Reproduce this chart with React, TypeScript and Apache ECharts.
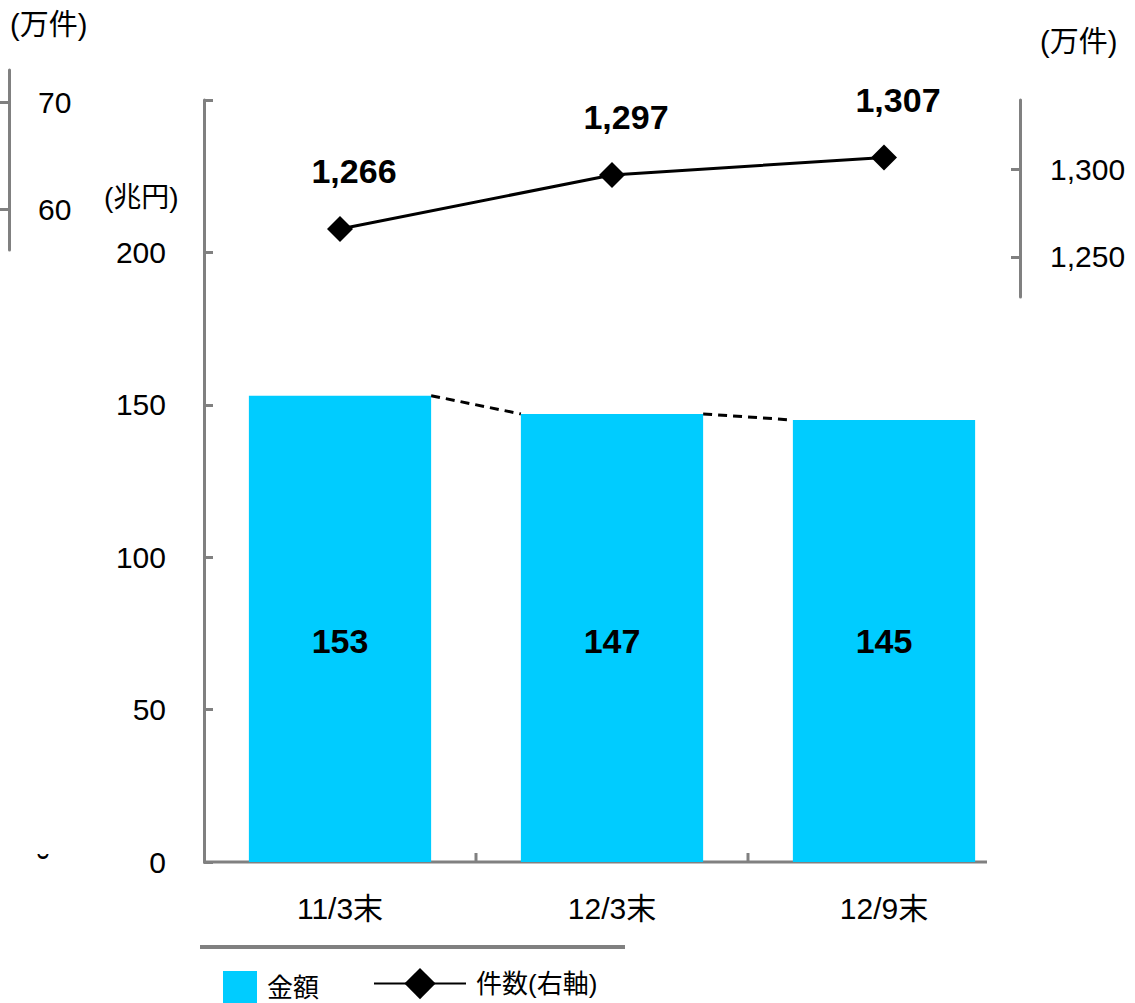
import React, { useEffect, useRef } from "react";
import * as echarts from "echarts";

// 残高の推移（金額：兆円、件数：万件）
const categories = ["11/3末", "12/3末", "12/9末"];
const amounts = [153, 147, 145];
const counts = [1266, 1297, 1307];
const amountTicks = [0, 50, 100, 150, 200];
const countTicks = [1250, 1300];
const oldCountTicks = [60, 70];

const FONT = "'Liberation Sans', Arial, 'Noto Sans CJK JP', sans-serif";
const AXIS_GRAY = "#808080";
const BAR_COLOR = "#00CCFF";
const BAR_RATIO = 0.67;
const AXIS_FONT = 30;
const VALUE_FONT = 34;

const fmt = (v: number) => v.toLocaleString("en-US");

export default function App() {
  const ref = useRef<HTMLDivElement>(null);

  useEffect(() => {
    if (!ref.current) return;
    const chart = echarts.init(ref.current, undefined, { renderer: "svg" });

    // links between the tops of neighbouring bars
    const linkData = amounts.slice(0, -1).map((v, i) => [i, v, amounts[i + 1]]);

    const axisText = { fontSize: AXIS_FONT, color: "#000", fontFamily: FONT };

    const option: any = {
      animation: false,
      backgroundColor: "#ffffff",
      textStyle: { fontFamily: FONT, color: "#000" },
      grid: [
        { left: 204, right: 115, top: 100, bottom: 141 },
        { left: 204, right: 115, top: 100, bottom: 706 },
        { left: 9, right: 1125, top: 70, bottom: 753 },
      ],
      xAxis: [
        {
          type: "category",
          gridIndex: 0,
          data: categories,
          boundaryGap: true,
          axisLine: { show: false },
          axisTick: { show: false },
          axisLabel: { ...axisText, margin: 31 },
        },
        {
          type: "category",
          gridIndex: 1,
          data: categories,
          boundaryGap: true,
          show: false,
        },
        { type: "value", gridIndex: 2, show: false, min: 0, max: 1 },
      ],
      yAxis: [
        {
          type: "value",
          gridIndex: 0,
          position: "left",
          min: 0,
          max: 250,
          interval: 50,
          splitLine: { show: false },
          axisLine: { show: true, lineStyle: { color: AXIS_GRAY, width: 3 } },
          axisTick: { show: true, inside: true, length: 9, lineStyle: { color: AXIS_GRAY, width: 3 } },
          axisLabel: {
            ...axisText,
            margin: 38,
            formatter: (v: number) => (amountTicks.includes(v) ? String(v) : ""),
          },
        },
        {
          type: "value",
          gridIndex: 1,
          position: "right",
          min: 1227,
          max: 1340,
          splitLine: { show: false },
          axisLine: { show: true, lineStyle: { color: AXIS_GRAY, width: 3 } },
          axisTick: {
            show: true,
            inside: true,
            length: 9,
            customValues: countTicks,
            lineStyle: { color: AXIS_GRAY, width: 3 },
          },
          axisLabel: {
            ...axisText,
            margin: 30,
            customValues: countTicks,
            formatter: (v: number) => fmt(v),
          },
        },
        {
          type: "value",
          gridIndex: 2,
          position: "left",
          min: 56.2,
          max: 73,
          splitLine: { show: false },
          axisLine: { show: true, lineStyle: { color: AXIS_GRAY, width: 3 } },
          axisTick: {
            show: true,
            inside: false,
            length: 9,
            customValues: oldCountTicks,
            lineStyle: { color: AXIS_GRAY, width: 3 },
          },
          axisLabel: {
            ...axisText,
            inside: true,
            margin: 29,
            customValues: oldCountTicks,
          },
        },
      ],
      legend: [
        {
          data: ["金額"],
          left: 218,
          top: 966,
          itemWidth: 34,
          itemHeight: 33,
          icon: "rect",
          textStyle: { fontSize: 26, color: "#000", fontFamily: FONT, padding: [0, 0, 0, 5] },
        },
        {
          data: ["件数(右軸)"],
          left: 368,
          top: 963,
          itemWidth: 92,
          itemHeight: 39,
          textStyle: { fontSize: 26, color: "#000", fontFamily: FONT, padding: [0, 0, 0, 5] },
        },
      ],
      series: [
        {
          name: "金額",
          type: "bar",
          xAxisIndex: 0,
          yAxisIndex: 0,
          data: amounts,
          barWidth: `${BAR_RATIO * 100}%`,
          itemStyle: { color: BAR_COLOR },
          label: {
            show: true,
            position: "insideBottom",
            distance: 204,
            fontSize: VALUE_FONT,
            fontWeight: "bold",
            color: "#000",
            fontFamily: FONT,
          },
        },
        {
          name: "links",
          type: "custom",
          xAxisIndex: 0,
          yAxisIndex: 0,
          data: linkData,
          clip: false,
          silent: true,
          renderItem: (params: any, api: any) => {
            const i = api.value(0);
            const p0 = api.coord([i, api.value(1)]);
            const p1 = api.coord([i + 1, api.value(2)]);
            const half = (api.size([1, 0])[0] * BAR_RATIO) / 2;
            return {
              type: "line",
              shape: { x1: p0[0] + half, y1: p0[1], x2: p1[0] - half, y2: p1[1] },
              style: { stroke: "#000", lineWidth: 3, lineDash: [9, 6] },
            };
          },
        },
        {
          name: "件数(右軸)",
          type: "line",
          xAxisIndex: 1,
          yAxisIndex: 1,
          data: counts,
          symbol: "diamond",
          symbolSize: 26,
          lineStyle: { color: "#000", width: 3 },
          itemStyle: { color: "#000" },
          label: {
            show: true,
            position: "top",
            distance: 28,
            offset: [14, 0],
            fontSize: VALUE_FONT,
            fontWeight: "bold",
            color: "#000",
            fontFamily: FONT,
            formatter: (p: any) => fmt(p.value),
          },
        },
      ],
      graphic: [
        // category axis baseline with its inner ticks
        {
          type: "polyline",
          shape: { points: [[203, 862], [987, 862]] },
          style: { stroke: AXIS_GRAY, lineWidth: 3, fill: "none" },
        },
        {
          type: "line",
          shape: { x1: 476, y1: 862, x2: 476, y2: 853 },
          style: { stroke: AXIS_GRAY, lineWidth: 3 },
        },
        {
          type: "line",
          shape: { x1: 748, y1: 862, x2: 748, y2: 853 },
          style: { stroke: AXIS_GRAY, lineWidth: 3 },
        },
        // separator above the legend
        {
          type: "line",
          shape: { x1: 200, y1: 947, x2: 625, y2: 947 },
          style: { stroke: AXIS_GRAY, lineWidth: 4 },
        },
        {
          type: "text",
          left: 10,
          top: 10,
          style: { text: "(万件)", font: `29px ${FONT}`, fill: "#000" },
        },
        {
          type: "text",
          left: 1040,
          top: 27,
          style: { text: "(万件)", font: `29px ${FONT}`, fill: "#000" },
        },
        {
          type: "text",
          left: 104,
          top: 183,
          style: { text: "(兆円)", font: `28px ${FONT}`, fill: "#000" },
        },
        {
          type: "text",
          left: 38,
          top: 850,
          style: { text: "˘", font: `34px ${FONT}`, fill: "#000" },
        },
      ],
    };

    chart.setOption(option);
    return () => chart.dispose();
  }, []);

  return (
    <div
      ref={ref}
      style={{ position: "fixed", left: 0, top: 0, width: 1135, height: 1003, background: "#fff" }}
    />
  );
}
